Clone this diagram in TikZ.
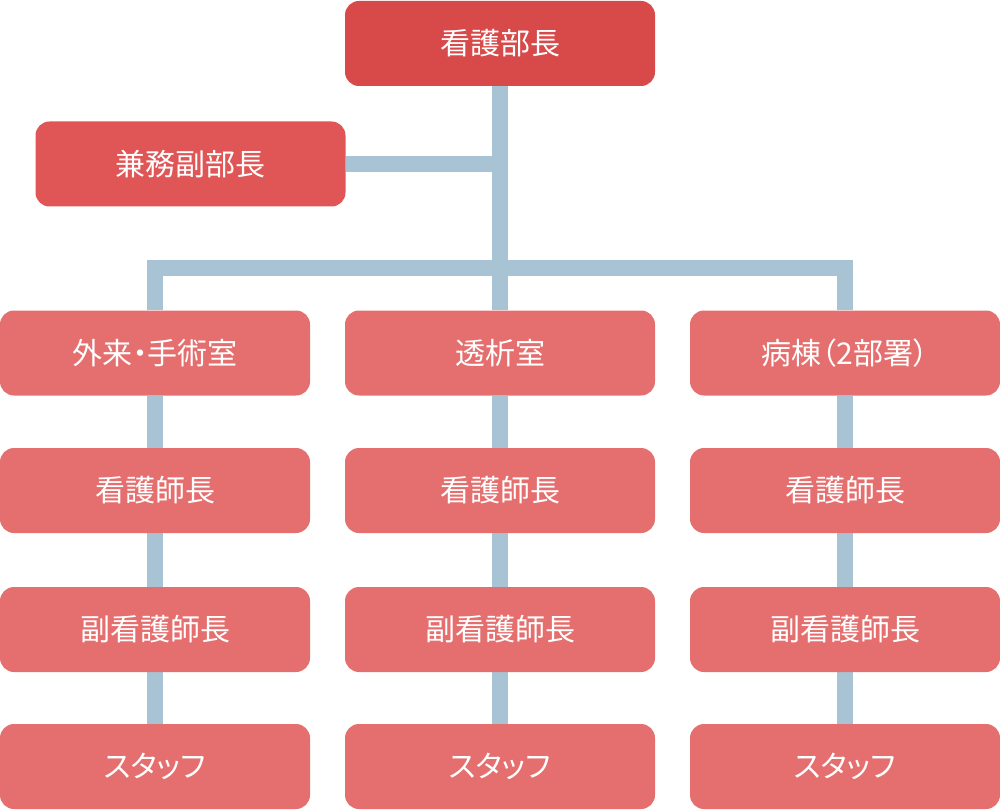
\documentclass[tikz,border=0pt]{standalone}
\usepackage{fontspec}
\setmainfont{Noto Sans CJK JP}
\usetikzlibrary{backgrounds}
\definecolor{chiefred}{HTML}{D8494A}
\definecolor{vicered}{HTML}{E05555}
\definecolor{unitred}{HTML}{E56F6E}
\definecolor{linkblue}{HTML}{A8C4D4}
\tikzset{
  post/.style={rounded corners=14pt, minimum width=310pt, minimum height=85pt,
    inner sep=0pt, text=white, font=\fontsize{30}{32}\selectfont\addfontfeatures{RawFeature=+palt}},
  link/.style={draw=linkblue, line width=16pt, line join=miter}
}
\begin{document}
\begin{tikzpicture}[x=1pt,y=-1pt]
\useasboundingbox (0,0) rectangle (1000,810);
\node[post, fill=chiefred] (chief) at (500,43.5) {看護部長};
\node[post, fill=vicered] (vice) at (190.5,164) {兼務副部長};
\foreach \c/\x/\unit in {out/155/外来・手術室, dia/500/透析室, ward/845/病棟（2部署）} {
  \node[post, fill=unitred] (\c) at (\x,353) {\unit};
  \node[post, fill=unitred] (\c head) at (\x,490.5) {看護師長};
  \node[post, fill=unitred] (\c sub) at (\x,629.5) {副看護師長};
  \node[post, fill=unitred] (\c staff) at (\x,766.5) {スタッフ};
}
\coordinate (bus) at (500,268);
\coordinate (vicejoin) at (chief.south |- vice.east);
\begin{scope}[on background layer]
\draw[link] (chief.south) -- (dia.north);
\draw[link] (vice.east) -- (vicejoin);
\draw[link] (out.north) |- (bus) -| (ward.north);
\foreach \c in {out,dia,ward}
  \draw[link] (\c) -- (\c staff);
\end{scope}
\end{tikzpicture}
\end{document}
